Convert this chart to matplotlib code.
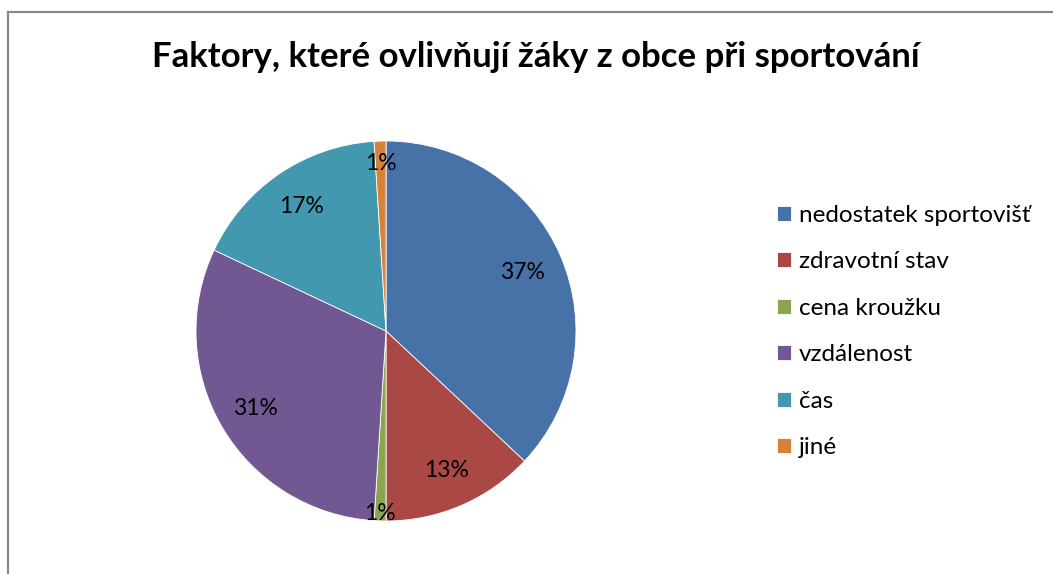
import matplotlib.pyplot as plt
import numpy as np

plt.rcParams['font.family'] = ['Lato', 'DejaVu Sans']

title = 'Faktory, které ovlivňují žáky z obce při sportování'
categories = ['nedostatek sportovišť', 'zdravotní stav', 'cena kroužku',
              'vzdálenost', 'čas', 'jiné']
values = [37, 13, 1, 31, 17, 1]
colors = ['#4672A8', '#AA4845', '#8BA54E', '#725892', '#4198AF', '#DA8138']
# how far from the centre each percentage sits (fraction of radius)
label_dist = [0.78, 0.80, 0.96, 0.80, 0.79, 0.88]

fig = plt.figure(figsize=(10.53, 5.74), dpi=100)

# chart frame (only the left and top edges are inside the picture)
fig.add_artist(plt.Line2D([7.5 / 1053, 7.5 / 1053], [0, 1 - 11.5 / 574],
                          color='#898989', lw=1.6))
fig.add_artist(plt.Line2D([7.5 / 1053, 1], [1 - 11.5 / 574, 1 - 11.5 / 574],
                          color='#898989', lw=1.6))

fig.text(536 / 1053, 1 - 57 / 574, title, ha='center', va='center',
         fontsize=25, fontweight='bold')

ax = fig.add_axes([196 / 1053, 53 / 574, 380 / 1053, 380 / 574])
wedges, _ = ax.pie(values, colors=colors, startangle=90, counterclock=False,
                   radius=1, wedgeprops=dict(linewidth=0.6, edgecolor='white'))
ax.set_xlim(-1, 1)
ax.set_ylim(-1, 1)
ax.set_aspect('equal')
ax.axis('off')

total = sum(values)
for w, v, d in zip(wedges, values, label_dist):
    mid = np.deg2rad((w.theta1 + w.theta2) / 2)
    ax.text(d * np.cos(mid), d * np.sin(mid), f'{round(100 * v / total)}%',
            ha='center', va='center', fontsize=16.5)

leg = fig.legend(wedges, categories, loc='upper left',
                 bbox_to_anchor=(755 / 1053, 1 - 183 / 574), frameon=False,
                 fontsize=17.5, handlelength=0.58, handleheight=0.58,
                 handletextpad=0.33, labelspacing=1.05)

fig.savefig('out.png', dpi=100)
